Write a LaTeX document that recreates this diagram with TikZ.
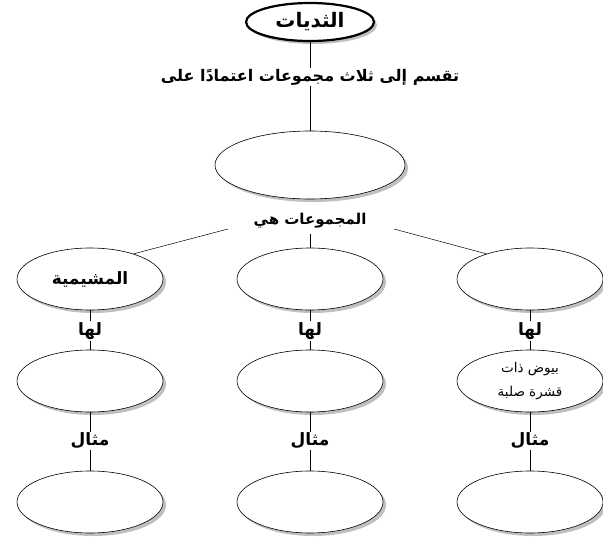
\documentclass[tikz,border=0pt]{standalone}
\usepackage{fontspec}
\newfontfamily\arabicfont[Script=Arabic]{DejaVu Sans}
\TeXXeTstate=1
\usetikzlibrary{shapes.geometric,shadows}
\newcommand{\artx}[1]{{\arabicfont\bfseries\beginR #1\endR}}
\newcommand{\arsm}[1]{{\arabicfont\beginR #1\endR}}
\tikzset{
  ell/.style={ellipse, draw=black, line width=0.6pt, fill=white, minimum width=146pt, minimum height=62pt, inner sep=0pt,
    drop shadow={fill=black!50, opacity=0.5, shadow xshift=3pt, shadow yshift=-3pt}},
  lbl/.style={inner sep=1pt, font=\fontsize{17}{19}\selectfont},
  conn/.style={draw=black, line width=0.5pt}
}
\begin{document}
\begin{tikzpicture}[x=1pt,y=-1pt]
\useasboundingbox (0,0) rectangle (603,538);
\node[ell, line width=2.2pt, minimum width=128pt, minimum height=38pt, font=\fontsize{20}{22}\selectfont] (top) at (310,22) {\artx{الثديات}};
\node[lbl, font=\fontsize{16}{18}\selectfont] (divide) at (310,77) {\artx{تقسم إلى ثلاث مجموعات اعتمادًا على}};
\node[ell, minimum width=190pt, minimum height=68pt] (basis) at (310,165) {};
\node[lbl, font=\fontsize{15}{17}\selectfont] (groups) at (310,221) {\artx{المجموعات هي}};
\coordinate (gl) at (228,229);
\coordinate (gr) at (394,229);
\coordinate (gm) at (310,234);
% row 1
\node[ell, font=\fontsize{17}{19}\selectfont] (r1l) at (90,279) {\artx{المشيمية}};
\node[ell] (r1m) at (310,279) {};
\node[ell] (r1r) at (530,279) {};
% lha
\node[lbl] (h1) at (90,331) {\artx{لها}};
\node[lbl] (h2) at (310,331) {\artx{لها}};
\node[lbl] (h3) at (530,331) {\artx{لها}};
% row 2
\node[ell] (r2l) at (90,381) {};
\node[ell] (r2m) at (310,381) {};
\node[ell, align=center, font=\fontsize{13.5}{24}\selectfont] (r2r) at (530,381) {\arsm{بيوض ذات}\\\arsm{قشرة صلبة}};
% mithal
\node[lbl] (m1) at (90,441) {\artx{مثال}};
\node[lbl] (m2) at (310,441) {\artx{مثال}};
\node[lbl] (m3) at (530,441) {\artx{مثال}};
% row 3
\node[ell] (r3l) at (90,502) {};
\node[ell] (r3m) at (310,502) {};
\node[ell] (r3r) at (530,502) {};
% connectors
\draw[conn] (top.south) -- (divide.north);
\draw[conn] (divide.south) -- (basis.north);
\draw[conn] (gl) -- (r1l.30);
\draw[conn] (gm) -- (r1m.north);
\draw[conn] (gr) -- (r1r.150);
\draw[conn] (r1l.south) -- (h1.north);
\draw[conn] (r1m.south) -- (h2.north);
\draw[conn] (r1r.south) -- (h3.north);
\draw[conn] (h1.south) -- (r2l.north);
\draw[conn] (h2.south) -- (r2m.north);
\draw[conn] (h3.south) -- (r2r.north);
\draw[conn] (r2l.south) -- (m1.north);
\draw[conn] (r2m.south) -- (m2.north);
\draw[conn] (r2r.south) -- (m3.north);
\draw[conn] (m1.south) -- (r3l.north);
\draw[conn] (m2.south) -- (r3m.north);
\draw[conn] (m3.south) -- (r3r.north);
\end{tikzpicture}
\end{document}
